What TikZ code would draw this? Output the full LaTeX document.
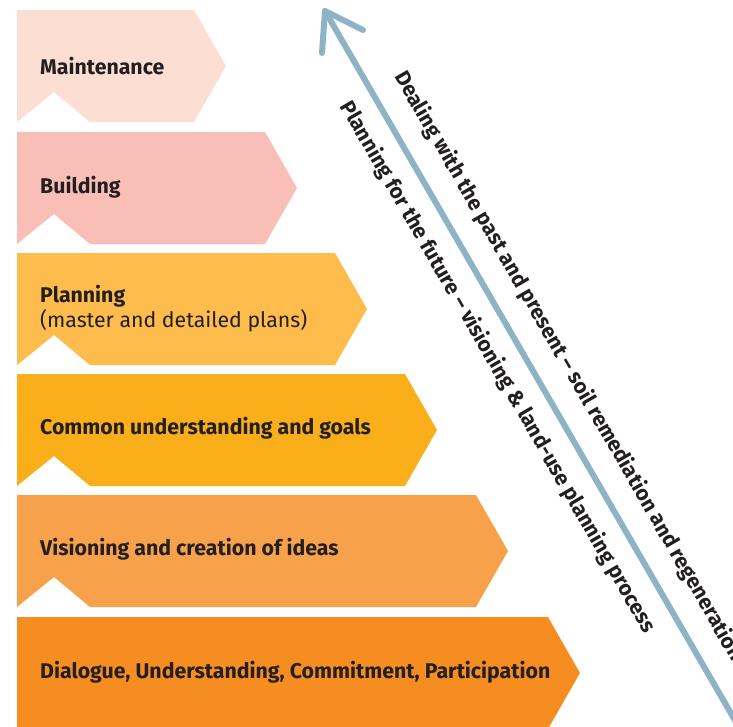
\documentclass[tikz,border=0pt]{standalone}
\usepackage{fontspec}
\setmainfont{Fira Sans}
\usetikzlibrary{calc}
\definecolor{maintcol}{HTML}{FCDED3}
\definecolor{buildcol}{HTML}{F9BEB5}
\definecolor{plancol}{HTML}{FDBC4B}
\definecolor{goalcol}{HTML}{F9AE1A}
\definecolor{visioncol}{HTML}{F7A24B}
\definecolor{dialogcol}{HTML}{F68D21}
\definecolor{arrowcol}{HTML}{8EB2C6}
\definecolor{inkcol}{HTML}{231F20}
\tikzset{
  stagetext/.style={anchor=west,inner sep=0pt,text=inkcol,font=\fontsize{21.3}{25}\selectfont\bfseries,align=left},
  slanttext/.style={anchor=base west,inner sep=0pt,text=inkcol,rotate=-60,font=\fontsize{21.2}{25}\selectfont\bfseries},
  arrowline/.style={draw=arrowcol,line width=6pt,line cap=round,line join=round}
}
\begin{document}
\begin{tikzpicture}[x=1pt,y=-1pt]
        \useasboundingbox (0,0) rectangle (733,726);
        \clip (0,0) rectangle (733,726);
        % stages, top to bottom
        \fill[maintcol] (17,10) -- (194,10) -- (226,66) -- (194,122) -- (90,122) -- (54,92) -- (17,122) -- cycle;
        \fill[buildcol] (17,132) -- (265,132) -- (297,188) -- (265,244) -- (90,244) -- (54,214) -- (17,244) -- cycle;
        \fill[plancol] (17,253) -- (335,253) -- (367,309) -- (335,365) -- (90,365) -- (54,335) -- (17,365) -- cycle;
        \fill[goalcol] (17,374) -- (405,374) -- (437,430) -- (405,486) -- (90,486) -- (54,456) -- (17,486) -- cycle;
        \fill[visioncol] (17,495) -- (476,495) -- (508,551) -- (476,607) -- (90,607) -- (54,577) -- (17,607) -- cycle;
        \fill[dialogcol] (17,617) -- (548,617) -- (580,673) -- (548,729) -- (17,729) -- cycle;
        \node[stagetext] (maint) at (40,66) {Maintenance};
        \node[stagetext] (build) at (40,187) {Building};
        \node[stagetext] (plan) at (40,309) {Planning\\{\mdseries(master and detailed plans)}};
        \node[stagetext] (goal) at (40,428) {Common understanding and goals};
        \node[stagetext] (vision) at (40,549) {Visioning and creation of ideas};
        \node[stagetext] (dialog) at (40,672) {Dialogue, Understanding, Commitment, Participation};
        % arrow
        \coordinate (foot) at (740,729);
        \coordinate (tip) at (325,11);
        \coordinate (barbl) at (322,53);
        \coordinate (barbr) at (363,30);
        \draw[arrowline] (foot) -- (tip);
        \draw[arrowline] (barbl) -- (tip) -- (barbr);
        \node[slanttext] (past) at (394,76) {Dealing with the past and present – soil remediation and regeneration};
        \node[slanttext] (future) at (339.7,106.4) {Planning for the future – visioning \& land-use planning process};
      \end{tikzpicture}
\end{document}
